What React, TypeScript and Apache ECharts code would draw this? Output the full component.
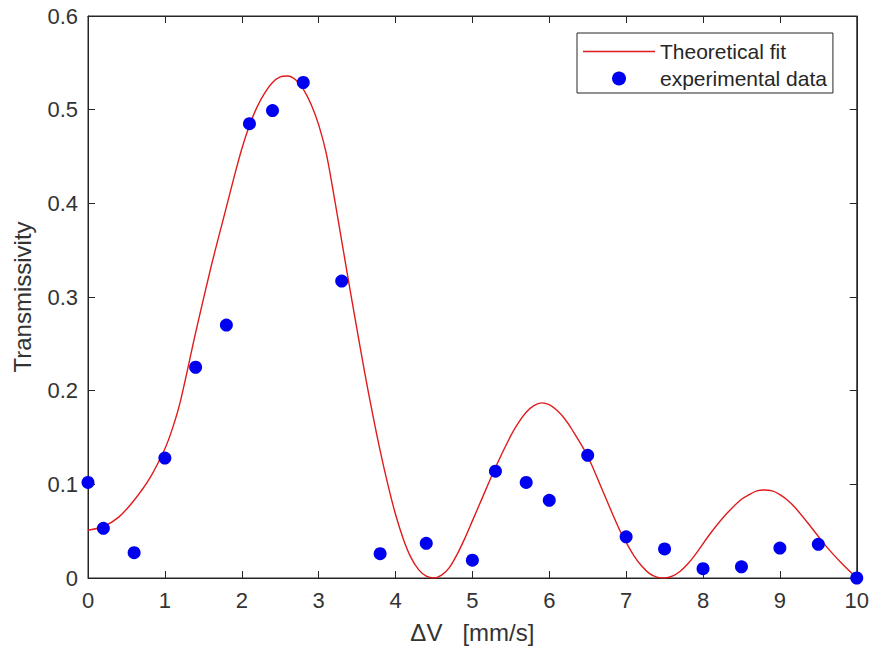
import React, { useEffect, useRef } from "react";
import * as echarts from "echarts";

const expX = [0, 0.2, 0.6, 1.0, 1.4, 1.8, 2.1, 2.4, 2.8, 3.3, 3.8, 4.4, 5.0, 5.3, 5.7, 6.0, 6.5, 7.0, 7.5, 8.0, 8.5, 9.0, 9.5, 10];
const expY = [0.102, 0.053, 0.027, 0.128, 0.225, 0.27, 0.485, 0.499, 0.529, 0.317, 0.026, 0.037, 0.019, 0.114, 0.102, 0.083, 0.131, 0.044, 0.031, 0.01, 0.012, 0.032, 0.036, 0.0];

const fitX = [0, 0.2, 0.4, 0.6, 0.8, 1.0, 1.1, 1.2, 1.4, 1.6, 1.8, 1.9, 2.0, 2.1, 2.2, 2.3, 2.4, 2.5, 2.6, 2.7, 2.8, 2.9, 3.0, 3.1, 3.2, 3.3, 3.4, 3.5, 3.6, 3.7, 3.8, 3.9, 4.0, 4.1, 4.2, 4.3, 4.4, 4.5, 4.6, 4.7, 4.8, 4.9, 5.0, 5.1, 5.3, 5.5, 5.6, 5.7, 5.8, 5.9, 6.0, 6.1, 6.2, 6.3, 6.5, 6.7, 6.9, 7.0, 7.1, 7.2, 7.3, 7.4, 7.5, 7.6, 7.7, 7.8, 7.9, 8.1, 8.3, 8.5, 8.6, 8.7, 8.8, 8.9, 9.0, 9.1, 9.2, 9.4, 9.6, 9.8, 10];
const fitY = [0.051, 0.055, 0.065, 0.083, 0.106, 0.138, 0.16, 0.188, 0.262, 0.332, 0.396, 0.428, 0.458, 0.483, 0.503, 0.518, 0.529, 0.535, 0.536, 0.532, 0.522, 0.506, 0.484, 0.453, 0.408, 0.36, 0.312, 0.265, 0.219, 0.176, 0.136, 0.1, 0.068, 0.042, 0.022, 0.009, 0.002, 0.0, 0.003, 0.011, 0.025, 0.042, 0.061, 0.08, 0.118, 0.152, 0.166, 0.177, 0.184, 0.187, 0.185, 0.179, 0.17, 0.158, 0.13, 0.092, 0.054, 0.038, 0.024, 0.013, 0.005, 0.001, 0.0, 0.002, 0.007, 0.015, 0.025, 0.048, 0.068, 0.084, 0.089, 0.093, 0.094, 0.093, 0.089, 0.083, 0.075, 0.055, 0.034, 0.016, 0.0];

const fitName = "Theoretical fit";
const expName = "experimental data";
const xTitle = "\u0394V   [mm/s]";
const yTitle = "Transmissivity";

const FONT = "'Liberation Sans', Arial, Helvetica, sans-serif";
const AXIS_COLOR = "#262626";
const TEXT_COLOR = "#333333";
const FIT_COLOR = "#e01b1b";

export default function App() {
  const ref = useRef<HTMLDivElement>(null);

  useEffect(() => {
    if (!ref.current) return;
    const chart = echarts.init(ref.current, undefined, { renderer: "svg" });
    const tick = { show: true, inside: true, length: 7, lineStyle: { color: AXIS_COLOR, width: 1 } };
    const line = { show: true, onZero: false, lineStyle: { color: AXIS_COLOR, width: 1 } };
    chart.setOption({
      animation: false,
      backgroundColor: "#ffffff",
      textStyle: { fontFamily: FONT },
      grid: {
        left: 88,
        right: 15,
        top: 16,
        bottom: 74,
        show: true,
        borderColor: AXIS_COLOR,
        borderWidth: 1,
        backgroundColor: "#ffffff",
      },
      legend: {
        orient: "vertical",
        left: 577,
        top: 33,
        padding: [8, 6, 4, 6],
        itemGap: 6,
        itemWidth: 72,
        itemHeight: 14,
        symbolKeepAspect: true,
        backgroundColor: "#ffffff",
        borderColor: AXIS_COLOR,
        borderWidth: 1,
        borderRadius: 0,
        textStyle: { fontFamily: FONT, fontSize: 21, color: "#262626" },
        data: [
          { name: fitName, icon: "path://M0,0H72V1.4H0Z", itemStyle: { color: FIT_COLOR } },
          { name: expName, icon: "circle" },
        ],
      },
      xAxis: [
        {
          type: "value",
          min: 0,
          max: 10,
          interval: 1,
          position: "bottom",
          axisLine: line,
          axisTick: tick,
          splitLine: { show: false },
          axisLabel: { fontSize: 22, color: TEXT_COLOR, margin: 11, fontFamily: FONT },
          name: xTitle,
          nameLocation: "middle",
          nameGap: 42,
          nameTextStyle: { fontSize: 24, color: TEXT_COLOR, fontFamily: FONT },
        },
        {
          type: "value",
          min: 0,
          max: 10,
          interval: 1,
          position: "top",
          axisLine: line,
          axisTick: tick,
          splitLine: { show: false },
          axisLabel: { show: false },
        },
      ],
      yAxis: [
        {
          type: "value",
          min: 0,
          max: 0.6,
          interval: 0.1,
          position: "left",
          axisLine: line,
          axisTick: tick,
          splitLine: { show: false },
          axisLabel: {
            fontSize: 22,
            color: TEXT_COLOR,
            margin: 10,
            fontFamily: FONT,
            formatter: (v: number) => String(Math.round(v * 10) / 10),
          },
          name: yTitle,
          nameLocation: "middle",
          nameGap: 54,
          nameTextStyle: { fontSize: 24, color: TEXT_COLOR, fontFamily: FONT },
        },
        {
          type: "value",
          min: 0,
          max: 0.6,
          interval: 0.1,
          position: "right",
          axisLine: line,
          axisTick: tick,
          splitLine: { show: false },
          axisLabel: { show: false },
        },
      ],
      series: [
        {
          name: fitName,
          type: "line",
          xAxisIndex: 0,
          yAxisIndex: 0,
          data: fitX.map((x, i) => [x, fitY[i]]),
          smooth: 0.3,
          showSymbol: false,
          symbol: "none",
          lineStyle: { color: FIT_COLOR, width: 1.4 },
          itemStyle: { color: FIT_COLOR },
          z: 2,
        },
        {
          name: expName,
          type: "scatter",
          xAxisIndex: 0,
          yAxisIndex: 0,
          data: expX.map((x, i) => [x, expY[i]]),
          symbol: "circle",
          symbolSize: 13,
          itemStyle: { color: "#0000f0", opacity: 1 },
          z: 3,
        },
      ],
    });
    return () => chart.dispose();
  }, []);

  return (
    <div
      ref={ref}
      style={{ position: "fixed", left: 0, top: 0, width: 872, height: 652, background: "#fff" }}
    />
  );
}
